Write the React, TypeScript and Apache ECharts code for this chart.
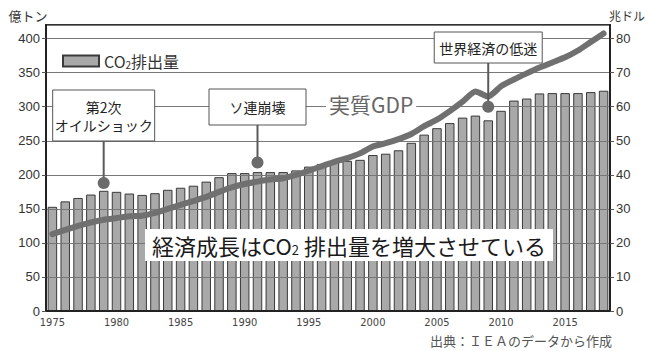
import React, { useEffect, useRef } from "react";
import * as echarts from "echarts";

// Years on the category axis
const years = [
  "1975", "1976", "1977", "1978", "1979", "1980", "1981", "1982", "1983", "1984",
  "1985", "1986", "1987", "1988", "1989", "1990", "1991", "1992", "1993", "1994",
  "1995", "1996", "1997", "1998", "1999", "2000", "2001", "2002", "2003", "2004",
  "2005", "2006", "2007", "2008", "2009", "2010", "2011", "2012", "2013", "2014",
  "2015", "2016", "2017", "2018",
];

// CO2 emissions (億トン), left axis
const co2 = [
  153, 161, 166, 171, 176.5, 175, 172.5, 170.5, 173, 178,
  181, 184, 190, 196.5, 202.5, 202.5, 204, 204, 204, 206.5,
  212, 216, 219, 220.5, 222, 229, 231, 236, 247, 259,
  268.5, 276, 284, 287, 280, 294, 309, 312, 319.5, 320,
  320, 320, 321.5, 323.5,
];

// Real GDP (兆ドル), right axis
const gdp = [
  22.6, 23.8, 25.0, 26.0, 26.8, 27.3, 27.8, 28.0, 28.8, 30.0,
  31.2, 32.3, 33.5, 35.0, 36.3, 37.3, 38.0, 38.6, 39.0, 40.0,
  41.2, 42.5, 43.8, 44.9, 46.3, 48.3, 49.3, 50.5, 52.0, 54.3,
  56.2, 58.7, 61.5, 64.5, 63.0, 66.0, 68.0, 69.8, 71.5, 73.0,
  74.5, 76.5, 79.0, 81.5,
];

// Events marked on the chart: year, label lines, marker height on the left axis
const eventYears = ["1979", "1991", "2009"];
const eventLabels = [["第2次", "オイルショック"], ["ソ連崩壊"], ["世界経済の低迷"]];
const eventMarkerCo2 = [188, 218, 300];

const JP = '"Noto Sans CJK JP", "Noto Sans", sans-serif';
const NUM = '"Liberation Sans", Arial, sans-serif';
const NUM_NARROW = '"Liberation Sans Narrow", "DejaVu Sans Condensed", "Liberation Sans", sans-serif';

export default function App() {
  const ref = useRef<HTMLDivElement>(null);

  useEffect(() => {
    const chart = echarts.init(ref.current!, null, { renderer: "svg" });

    chart.setOption({
      animation: false,
      backgroundColor: "#fff",
      grid: {
        left: 46,
        right: 38,
        top: 25,
        bottom: 40,
        show: true,
        borderColor: "#333",
        borderWidth: 2,
      },
      legend: {
        data: [{ name: "CO2排出量", icon: "rect" }],
        left: 57,
        top: 48,
        itemWidth: 36,
        itemHeight: 11,
        formatter: () => "{a|CO}{b|2}{a|排出量}",
        textStyle: {
          color: "#333",
          rich: {
            a: { fontSize: 16, fontFamily: JP, color: "#333" },
            b: { fontSize: 10, fontFamily: JP, color: "#333", padding: [6, 0, 0, 0] },
          },
        },
      },
      xAxis: {
        type: "category",
        data: years,
        boundaryGap: true,
        axisLine: { lineStyle: { color: "#222", width: 2 } },
        axisTick: { show: false },
        axisLabel: {
          interval: 4,
          margin: 6,
          fontSize: 11,
          color: "#444",
          fontFamily: NUM_NARROW,
        },
        z: 3,
      },
      yAxis: [
        {
          type: "value",
          min: 0,
          max: 420,
          interval: 50,
          axisLine: { show: true, lineStyle: { color: "#222", width: 2 } },
          axisTick: { show: true, length: 4, lineStyle: { color: "#555" } },
          axisLabel: {
            showMaxLabel: false,
            margin: 6,
            fontSize: 13,
            color: "#333",
            fontFamily: NUM,
          },
          splitLine: { show: true, lineStyle: { color: "#777", width: 1 } },
          z: 3,
        },
        {
          type: "value",
          min: 0,
          max: 84,
          interval: 10,
          axisLine: { show: true, lineStyle: { color: "#222", width: 2 } },
          axisTick: { show: true, length: 4, lineStyle: { color: "#555" } },
          axisLabel: {
            showMaxLabel: false,
            margin: 6,
            fontSize: 13,
            color: "#333",
            fontFamily: NUM,
          },
          splitLine: { show: false },
          z: 3,
        },
      ],
      series: [
        {
          name: "CO2排出量",
          type: "bar",
          data: co2,
          yAxisIndex: 0,
          barWidth: "74%",
          itemStyle: { color: "#a9a9a9", borderColor: "#3a3a3a", borderWidth: 1 },
          z: 2,
        },
        {
          name: "実質GDP",
          type: "line",
          data: gdp,
          yAxisIndex: 1,
          showSymbol: false,
          smooth: 0.2,
          lineStyle: { color: "#707070", width: 6, cap: "round", join: "round" },
          z: 5,
        },
      ],
    });

    // Annotation boxes, connectors and markers
    const boxLayout = [
      { w: 102, top: 90, h: 51 },
      { w: 97, top: 89, h: 36 },
      { w: 108, top: 32, h: 31 },
    ];
    const graphics: any[] = [];
    eventYears.forEach((year, i) => {
      const [cx, cy] = chart.convertToPixel({ xAxisIndex: 0, yAxisIndex: 0 }, [year, eventMarkerCo2[i]]) as number[];
      const b = boxLayout[i];
      const lines = eventLabels[i];
      graphics.push({
        type: "line",
        z: 20,
        shape: { x1: cx, y1: b.top + b.h, x2: cx, y2: cy },
        style: { stroke: "#5a5a5a", lineWidth: 2 },
      });
      graphics.push({
        type: "circle",
        z: 21,
        shape: { cx, cy, r: 6 },
        style: { fill: "#6b6b6b" },
      });
      graphics.push({
        type: "rect",
        z: 22,
        shape: { x: cx - b.w / 2, y: b.top, width: b.w, height: b.h },
        style: { fill: "#fff", stroke: "#555", lineWidth: 1 },
      });
      graphics.push({
        type: "text",
        z: 23,
        x: cx,
        y: b.top + b.h / 2,
        style: {
          text: lines.join("\n"),
          fontSize: 14,
          lineHeight: 18,
          fontFamily: JP,
          fill: "#222",
          align: "center",
          verticalAlign: "middle",
        },
      });
    });

    // Series caption for the GDP line
    graphics.push({
      type: "text",
      z: 23,
      x: 326,
      y: 104,
      style: {
        text: "実質GDP",
        fontSize: 21,
        fontFamily: JP,
        fill: "#666",
        backgroundColor: "#fff",
        padding: [0, 3, 0, 3],
        verticalAlign: "middle",
        align: "left",
      },
    });

    // Headline banner
    graphics.push({
      type: "rect",
      z: 22,
      shape: { x: 145, y: 229, width: 408, height: 32 },
      style: { fill: "#fff" },
    });
    graphics.push({
      type: "text",
      z: 23,
      x: 349,
      y: 245,
      style: {
        text: "{t|経済成長は}{t|CO}{s|2}{t| 排出量を増大させている}",
        align: "center",
        verticalAlign: "middle",
        rich: {
          t: { fontSize: 22, fontFamily: JP, fill: "#1a1a1a", color: "#1a1a1a" },
          s: { fontSize: 13, fontFamily: JP, fill: "#1a1a1a", color: "#1a1a1a", padding: [8, 0, 0, 0] },
        },
      },
    });

    // Axis unit titles and source note
    graphics.push({
      type: "text",
      z: 23,
      x: 28,
      y: 15,
      style: { text: "億トン", fontSize: 13, fontFamily: JP, fill: "#333", align: "center", verticalAlign: "middle" },
    });
    graphics.push({
      type: "text",
      z: 23,
      x: 645,
      y: 15,
      style: { text: "兆ドル", fontSize: 12, fontFamily: JP, fill: "#333", align: "right", verticalAlign: "middle" },
    });
    graphics.push({
      type: "text",
      z: 23,
      x: 612,
      y: 340,
      style: {
        text: "出典：ＩＥＡのデータから作成",
        fontSize: 13,
        fontFamily: JP,
        fill: "#555",
        align: "right",
        verticalAlign: "middle",
      },
    });

    chart.setOption({ graphic: graphics });

    return () => chart.dispose();
  }, []);

  return (
    <div
      ref={ref}
      style={{ position: "fixed", left: 0, top: 0, width: 648, height: 351, background: "#fff" }}
    />
  );
}
